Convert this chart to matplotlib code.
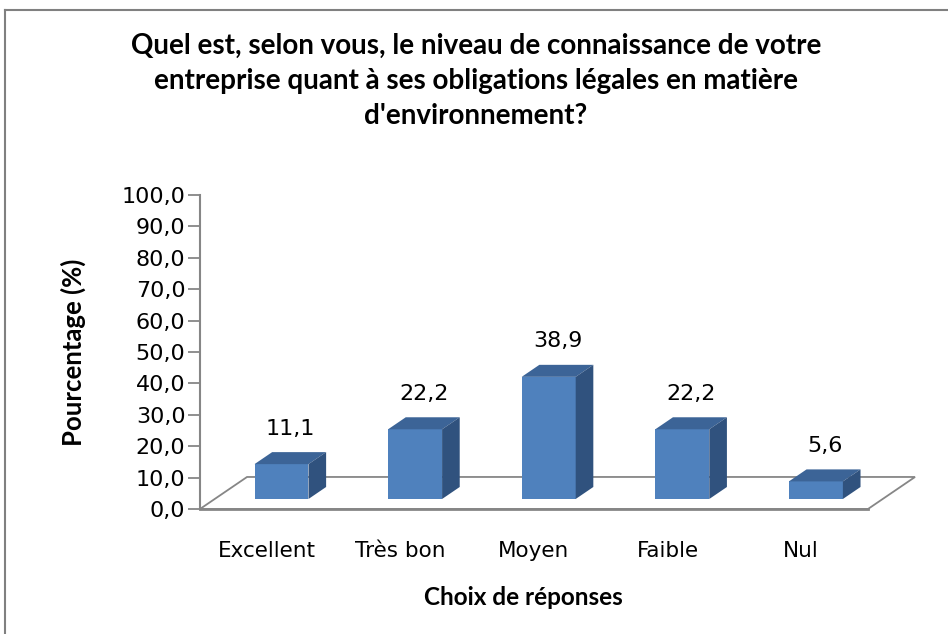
import matplotlib
matplotlib.use("Agg")
import matplotlib.pyplot as plt
from matplotlib.patches import Polygon
from matplotlib.lines import Line2D

categories = ['Excellent', 'Très bon', 'Moyen', 'Faible', 'Nul']
values = [11.1, 22.2, 38.9, 22.2, 5.6]
labels = ['11,1', '22,2', '38,9', '22,2', '5,6']
yticks = [0, 10, 20, 30, 40, 50, 60, 70, 80, 90, 100]
ytick_labels = ['%.1f' % t for t in yticks]
ytick_labels = [s.replace('.', ',') for s in ytick_labels]

title = ("Quel est, selon vous, le niveau de connaissance de votre\n"
         "entreprise quant à ses obligations légales en matière\n"
         "d'environnement?")

front_col = '#4F81BD'
top_col = '#3C6497'
side_col = '#30527E'
grey = '#868686'

# fake 3d depth (data units: categories / percent)
DX, DY = 0.352, 10.2
f0, f1 = 0.3125, 0.6875
bw = 0.404

fig = plt.figure(figsize=(9.48, 6.34), dpi=100)
ax = fig.add_axes([200 / 948, 125 / 634, 668 / 948, 314 / 634])
ax.set_xlim(-0.5, 4.5)
ax.set_ylim(0, 100)
for s in ['top', 'right', 'bottom']:
    ax.spines[s].set_visible(False)
ax.spines['left'].set_color(grey)
ax.spines['left'].set_linewidth(1.5)

# floor
n = len(categories)
floor = Polygon([(-0.5, 0), (n - 0.5, 0), (n - 0.5 + DX, DY), (-0.5 + DX, DY)],
                closed=True, fill=False, edgecolor=grey, lw=1.3, clip_on=False, zorder=1)
ax.add_patch(floor)
ax.add_line(Line2D([-0.5, n - 0.5], [0, 0], color=grey, lw=2, clip_on=False, zorder=1))

# bars
xs = list(range(n))
x0 = [x + f0 * DX for x in xs]
ax.bar(x0, values, width=bw, bottom=f0 * DY, color=front_col, zorder=3, clip_on=False)
d = (f1 - f0)
for x, v, lab in zip(x0, values, labels):
    yb = f0 * DY
    yt = yb + v
    left, right = x - bw / 2, x + bw / 2
    top = Polygon([(left, yt), (right, yt), (right + d * DX, yt + d * DY), (left + d * DX, yt + d * DY)],
                  closed=True, facecolor=top_col, edgecolor='none', zorder=3, clip_on=False)
    side = Polygon([(right, yb), (right, yt), (right + d * DX, yt + d * DY), (right + d * DX, yb + d * DY)],
                   closed=True, facecolor=side_col, edgecolor='none', zorder=3, clip_on=False)
    ax.add_patch(top)
    ax.add_patch(side)
    ax.text(x + d * DX / 2, yt + d * DY + 7.5, lab, ha='center', va='center',
            fontsize=16, color='black', family='DejaVu Sans', zorder=4)

ax.set_yticks(yticks)
ax.set_yticklabels(ytick_labels, fontsize=16, family='DejaVu Sans')
ax.tick_params(axis='y', direction='out', length=8.5, width=1.3, color=grey, pad=2)
ax.set_xticks(xs)
ax.set_xticklabels(categories, fontsize=15.5, family='DejaVu Sans')
ax.tick_params(axis='x', length=0, pad=23)

ax.set_ylabel('Pourcentage (%)', fontsize=18.5, family='Lato', fontweight='bold')
ax.yaxis.set_label_coords(-0.19, 0.5)
ax.set_xlabel('Choix de réponses', fontsize=17.5, family='Lato', fontweight='bold')
ax.xaxis.set_label_coords(0.4835, -0.283)
ax.xaxis.label.set_va('center')
ax.yaxis.label.set_va('center')

fig.text(476 / 948, 1 - 81 / 634, title, ha='center', va='center', fontsize=20,
         family='Lato', fontweight='bold', linespacing=1.42)

# chart frame
fig.add_artist(Line2D([5 / 948, 1], [1 - 10 / 634, 1 - 10 / 634], color='#808080', lw=1.5,
                      transform=fig.transFigure))
fig.add_artist(Line2D([5 / 948, 5 / 948], [0, 1 - 10 / 634], color='#808080', lw=1.5,
                      transform=fig.transFigure))

plt.savefig('out.png', dpi=100)
